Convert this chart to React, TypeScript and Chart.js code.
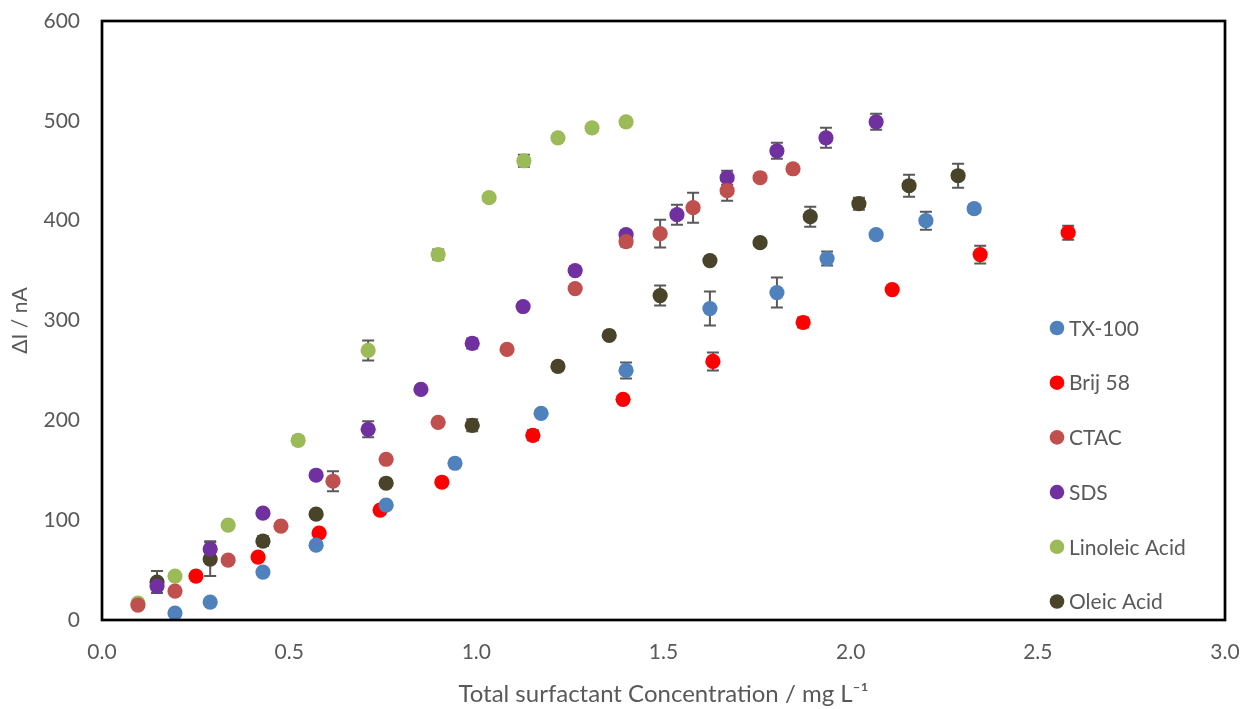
import React, { useEffect, useRef } from "react";
import { Chart, registerables } from "chart.js";

Chart.register(...registerables);

// ---- Data ----
const tx100X = [0.195, 0.289, 0.43, 0.572, 0.759, 0.943, 1.173, 1.4, 1.624, 1.803, 1.937, 2.068, 2.201, 2.33];
const tx100Y = [7, 18, 48, 75, 115, 157, 207, 250, 312, 328, 362, 386, 400, 412];
const tx100Err = [0, 0, 0, 0, 3, 4, 0, 8, 17, 15, 7, 0, 9, 4];

const brijX = [0.251, 0.417, 0.58, 0.743, 0.908, 1.151, 1.392, 1.632, 1.873, 2.111, 2.346, 2.581];
const brijY = [44, 63, 87, 110, 138, 185, 221, 259, 298, 331, 366, 388];
const brijErr = [0, 0, 0, 0, 0, 5, 0, 9, 5, 0, 9, 7];

const ctacX = [0.096, 0.195, 0.337, 0.478, 0.617, 0.759, 0.898, 1.082, 1.264, 1.4, 1.491, 1.579, 1.67, 1.758, 1.846];
const ctacY = [15, 29, 60, 94, 139, 161, 198, 271, 332, 379, 387, 413, 430, 443, 452];
const ctacErr = [0, 0, 0, 0, 10, 3, 0, 0, 0, 5, 14, 15, 10, 0, 0];

const sdsX = [0.147, 0.289, 0.43, 0.572, 0.711, 0.852, 0.989, 1.125, 1.264, 1.4, 1.536, 1.67, 1.803, 1.934, 2.068];
const sdsY = [34, 71, 107, 145, 191, 231, 277, 314, 350, 386, 406, 443, 470, 483, 499];
const sdsErr = [0, 8, 0, 0, 8, 0, 5, 0, 4, 4, 10, 7, 8, 10, 8];

const linoleicX = [0.096, 0.195, 0.337, 0.524, 0.711, 0.898, 1.034, 1.127, 1.218, 1.309, 1.4];
const linoleicY = [17, 44, 95, 180, 270, 366, 423, 460, 483, 493, 499];
const linoleicErr = [0, 0, 0, 4, 10, 5, 0, 6, 0, 0, 0];

const oleicX = [0.147, 0.289, 0.43, 0.572, 0.759, 0.989, 1.218, 1.355, 1.491, 1.624, 1.758, 1.892, 2.022, 2.156, 2.287];
const oleicY = [38, 61, 79, 106, 137, 195, 254, 285, 325, 360, 378, 404, 417, 435, 445];
const oleicErr = [11, 17, 5, 0, 0, 6, 4, 0, 10, 0, 0, 10, 6, 11, 12];

const seriesNames = ["TX-100", "Brij 58", "CTAC", "SDS", "Linoleic Acid", "Oleic Acid"];
const seriesColors = ["#4F81BD", "#FF0000", "#C0504D", "#7030A0", "#9BBB59", "#494429"];

const xTicks = [0, 0.5, 1.0, 1.5, 2.0, 2.5, 3.0];
const yTicks = [0, 100, 200, 300, 400, 500, 600];

const xTitle = "Total surfactant Concentration / mg L\u207B\u00B9";
const yTitle = "\u0394I / nA";

const FONT = "Lato, 'Open Sans', 'DejaVu Sans', sans-serif";
const TEXT_COLOR = "#595959";

function pts(xs: number[], ys: number[]) {
  return xs.map((x, i) => ({ x, y: ys[i] }));
}

const allX = [tx100X, brijX, ctacX, sdsX, linoleicX, oleicX];
const allY = [tx100Y, brijY, ctacY, sdsY, linoleicY, oleicY];
const allErr = [tx100Err, brijErr, ctacErr, sdsErr, linoleicErr, oleicErr];

const errorBarPlugin = {
  id: "errorBars",
  beforeDatasetsDraw(chart: any) {
    const { ctx, scales } = chart;
    const xs = scales.x;
    const ys = scales.y;
    ctx.save();
    ctx.strokeStyle = "#595959";
    ctx.lineWidth = 2;
    chart.data.datasets.forEach((ds: any) => {
      const errs: number[] = ds.errorBars || [];
      ds.data.forEach((p: any, i: number) => {
        const e = errs[i];
        if (!e) return;
        const px = xs.getPixelForValue(p.x);
        const top = ys.getPixelForValue(p.y + e);
        const bot = ys.getPixelForValue(p.y - e);
        ctx.beginPath();
        ctx.moveTo(px, top);
        ctx.lineTo(px, bot);
        ctx.moveTo(px - 6, top);
        ctx.lineTo(px + 6, top);
        ctx.moveTo(px - 6, bot);
        ctx.lineTo(px + 6, bot);
        ctx.stroke();
      });
    });
    ctx.restore();
  },
};

const framePlugin = {
  id: "frame",
  afterDatasetsDraw(chart: any) {
    const { ctx, chartArea } = chart;
    ctx.save();
    ctx.strokeStyle = "#000000";
    ctx.lineWidth = 2.7;
    ctx.strokeRect(
      chartArea.left,
      chartArea.top,
      chartArea.right - chartArea.left,
      chartArea.bottom - chartArea.top
    );
    ctx.restore();
  },
};

const legendPlugin = {
  id: "customLegend",
  afterDraw(chart: any) {
    const { ctx } = chart;
    const x0 = 1057;
    const y0 = 328;
    const step = 54.7;
    ctx.save();
    ctx.font = `21px ${FONT}`;
    ctx.textBaseline = "middle";
    ctx.textAlign = "left";
    chart.data.datasets.forEach((ds: any, i: number) => {
      const y = y0 + i * step;
      ctx.beginPath();
      ctx.fillStyle = ds.backgroundColor;
      ctx.arc(x0, y, 7.3, 0, Math.PI * 2);
      ctx.fill();
      ctx.fillStyle = TEXT_COLOR;
      ctx.fillText(ds.label, x0 + 12, y + 1);
    });
    ctx.restore();
  },
};

export default function App() {
  const canvasRef = useRef<HTMLCanvasElement | null>(null);

  useEffect(() => {
    if (!canvasRef.current) return;
    const datasets = seriesNames.map((name, i) => ({
      label: name,
      data: pts(allX[i], allY[i]),
      errorBars: allErr[i],
      backgroundColor: seriesColors[i],
      borderColor: seriesColors[i],
      pointRadius: 7.6,
      pointHoverRadius: 7.6,
      pointBorderWidth: 0,
      showLine: false,
    }));

    const chart = new Chart(canvasRef.current, {
      type: "scatter",
      data: { datasets } as any,
      options: {
        animation: false,
        responsive: true,
        maintainAspectRatio: false,
        layout: { padding: { top: 21, right: 20, left: 0, bottom: 0 } },
        plugins: {
          legend: { display: false },
          tooltip: { enabled: false },
        },
        scales: {
          x: {
            type: "linear",
            min: 0,
            max: 3,
            grid: { display: false, drawTicks: false },
            border: { display: false },
            afterBuildTicks: (s: any) => {
              s.ticks = xTicks.map((v) => ({ value: v }));
            },
            afterFit: (s: any) => {
              s.height = 89;
              s.paddingLeft = 0;
              s.paddingRight = 0;
            },
            ticks: {
              color: TEXT_COLOR,
              font: { family: FONT, size: 21 },
              padding: 20,
              maxRotation: 0,
              callback: (v: any) => Number(v).toFixed(1),
            },
            title: {
              display: true,
              text: xTitle,
              color: TEXT_COLOR,
              font: { family: FONT, size: 24 },
              padding: { top: 0, bottom: 0 },
            },
          },
          y: {
            type: "linear",
            min: 0,
            max: 600,
            grid: { display: false, drawTicks: false },
            border: { display: false },
            afterBuildTicks: (s: any) => {
              s.ticks = yTicks.map((v) => ({ value: v }));
            },
            afterFit: (s: any) => {
              s.width = 102;
              s.paddingTop = 0;
              s.paddingBottom = 0;
            },
            ticks: {
              color: TEXT_COLOR,
              font: { family: FONT, size: 21 },
              padding: 22,
              callback: (v: any) => String(v),
            },
            title: {
              display: true,
              text: yTitle,
              color: TEXT_COLOR,
              font: { family: FONT, size: 21 },
              padding: { top: 8, bottom: 0 },
            },
          },
        },
      } as any,
      plugins: [errorBarPlugin, framePlugin, legendPlugin],
    });
    return () => chart.destroy();
  }, []);

  return (
    <div style={{ position: "fixed", left: 0, top: 0, width: 1245, height: 709, background: "#fff" }}>
      <canvas ref={canvasRef} />
    </div>
  );
}
